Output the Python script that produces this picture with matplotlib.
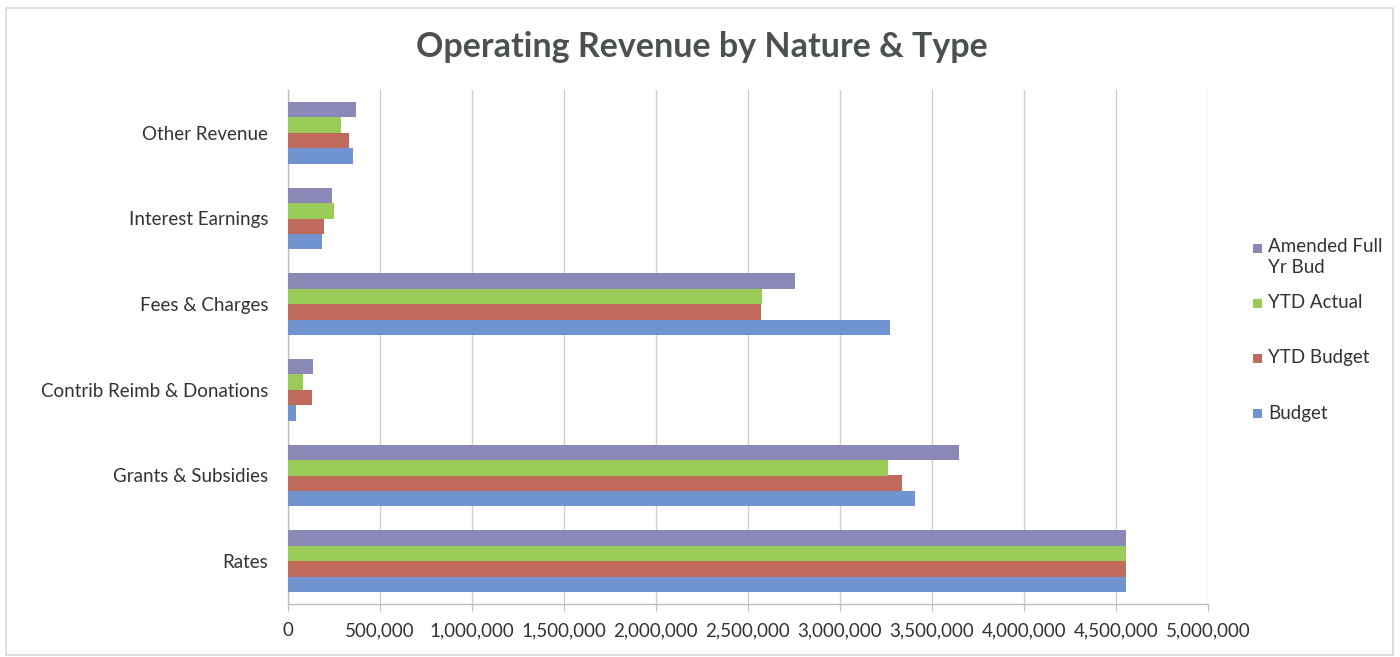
import matplotlib
matplotlib.use("Agg")
import matplotlib.pyplot as plt
from matplotlib.patches import Rectangle
from matplotlib.ticker import FuncFormatter
import numpy as np

plt.rcParams['font.family'] = ['Lato', 'DejaVu Sans']

categories = ["Rates", "Grants & Subsidies", "Contrib Reimb & Donations",
              "Fees & Charges", "Interest Earnings", "Other Revenue"]

budget = [4554000, 3410000, 46000, 3271000, 190000, 356000]
ytd_budget = [4554000, 3337000, 134000, 2570000, 199000, 332000]
ytd_actual = [4556000, 3260000, 85000, 2577000, 253000, 289000]
amended_full_yr = [4554000, 3645000, 140000, 2758000, 242000, 374000]

series_names = ["Budget", "YTD Budget", "YTD Actual", "Amended Full\nYr Bud"]
series_values = [budget, ytd_budget, ytd_actual, amended_full_yr]
series_colors = ["#6f94cf", "#c06a5b", "#9acb58", "#8a88b6"]

x_ticks = [0, 500000, 1000000, 1500000, 2000000, 2500000,
           3000000, 3500000, 4000000, 4500000, 5000000]

W, H = 1400, 657
fig = plt.figure(figsize=(W / 100, H / 100), dpi=100)
fig.patch.set_facecolor("white")

# outer chart frame
fig.add_artist(Rectangle((6 / W, 1 - 655 / H), 1387 / W, 647 / H,
                         transform=fig.transFigure, fill=False,
                         edgecolor="#d9d9d9", linewidth=1.2))

ax = fig.add_axes([287.5 / W, 1 - 604 / H, 920.5 / W, 514 / H])

y = np.arange(len(categories))
bar_h = 0.18
offsets = np.array([-1.5, -0.5, 0.5, 1.5]) * bar_h
for vals, off, col in zip(series_values, offsets, series_colors):
    ax.barh(y + off, vals, height=bar_h, color=col, edgecolor="none", zorder=3)

ax.set_xlim(0, 5000000)
ax.set_ylim(-0.5, len(categories) - 0.5)
ax.set_xticks(x_ticks)
ax.xaxis.set_major_formatter(FuncFormatter(lambda v, p: f"{int(v):,}"))
ax.set_yticks(y)
ax.set_yticklabels(categories)

ax.grid(axis="x", color="#cfcfcf", linewidth=1.0, zorder=0)
ax.set_axisbelow(True)
for side in ["top", "right"]:
    ax.spines[side].set_visible(False)
for side in ["left", "bottom"]:
    ax.spines[side].set_color("#bdbdbd")
    ax.spines[side].set_linewidth(1.0)

ax.tick_params(axis="x", length=5, color="#bdbdbd", labelsize=13.5,
               labelcolor="#333333", pad=8)
ax.tick_params(axis="y", length=0, labelsize=13.5, labelcolor="#333333", pad=14)

fig.text(702 / W, 1 - 47 / H, "Operating Revenue by Nature & Type",
         ha="center", va="center", fontsize=24.5, fontweight="bold",
         color="#4b524e")

# legend entries, top to bottom
legend_rows = [(3, 248), (2, 303), (1, 358), (0, 413)]
for idx, ypx in legend_rows:
    fig.add_artist(Rectangle((1253 / W, 1 - (ypx + 5) / H), 9 / W, 9 / H,
                             transform=fig.transFigure,
                             facecolor=series_colors[idx], edgecolor="none"))
    if "\n" in series_names[idx]:
        fig.text(1268 / W, 1 - (ypx - 10) / H, series_names[idx], ha="left",
                 va="top", fontsize=13.5, color="#333333", linespacing=1.3)
    else:
        fig.text(1268 / W, 1 - ypx / H, series_names[idx], ha="left",
                 va="center", fontsize=13.5, color="#333333")

fig.savefig("out.png", dpi=100, facecolor="white")
